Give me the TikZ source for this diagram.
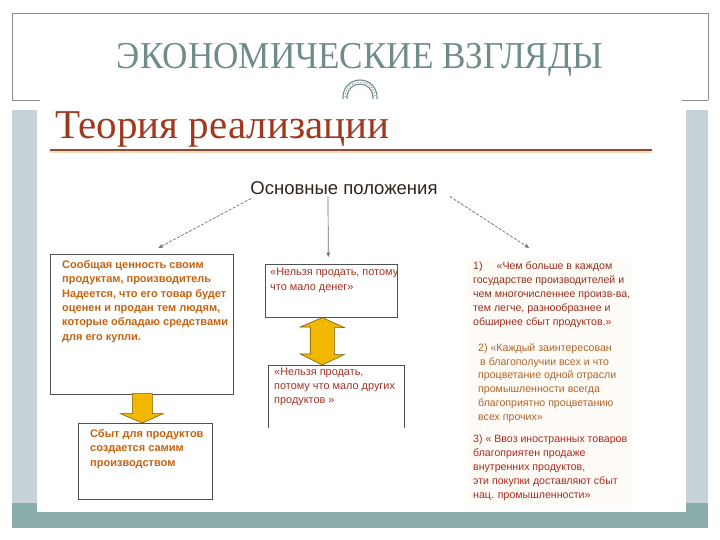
\documentclass[tikz,border=0pt]{standalone}
\usepackage{fontspec}
\setmainfont{Liberation Serif}
\setsansfont{Liberation Sans}
\usetikzlibrary{arrows.meta,calc}
\definecolor{framegray}{RGB}{140,140,140}
\definecolor{sidebar}{RGB}{197,210,216}
\definecolor{teal}{RGB}{138,172,171}
\definecolor{titlecol}{RGB}{111,139,139}
\definecolor{headcol}{RGB}{160,56,30}
\definecolor{rulecol}{RGB}{142,74,44}
\definecolor{rulelight}{RGB}{246,220,200}
\definecolor{boxorange}{RGB}{196,100,16}
\definecolor{boxgray}{RGB}{80,80,80}
\definecolor{yellowfill}{RGB}{242,184,0}
\definecolor{yellowline}{RGB}{120,90,0}
\definecolor{redtext}{RGB}{160,50,35}
\definecolor{itemone}{RGB}{150,45,30}
\definecolor{itemtwo}{RGB}{176,100,40}
\definecolor{itemthree}{RGB}{170,40,30}
\definecolor{cream}{RGB}{255,252,248}
\definecolor{arrowgray}{RGB}{110,110,110}
\definecolor{optext}{RGB}{50,35,25}
\begin{document}
\begin{tikzpicture}[x=1pt,y=-1pt,
  boxline/.style={draw=boxgray,line width=0.6pt,inner sep=0pt,anchor=north west},
  boldtext/.style={font=\sffamily\bfseries\fontsize{11}{14.4}\selectfont,text=boxorange,align=left,inner sep=0pt,anchor=north west},
  plaintext/.style={font=\sffamily\fontsize{10.6}{14.2}\selectfont,align=left,inner sep=0pt,anchor=north west},
  thinarrow/.style={draw=arrowgray,line width=0.7pt,-{Stealth[length=5pt,width=4pt]}},
  yarrow/.style={fill=yellowfill,draw=yellowline,line width=0.6pt,line join=miter}]
\useasboundingbox (0,0) rectangle (720,540);
% slide frame
\fill[teal] (12,503) rectangle (708,528);
\fill[sidebar] (12,110) rectangle (37,503);
\fill[sidebar] (686,110) rectangle (708,503);
\fill[white] (37,108) rectangle (686,512);
\draw[framegray,line width=0.8pt] (12,100) -- (12,13) -- (708,13) -- (708,100);
\draw[framegray,line width=0.8pt] (12,100) -- (40,100);
\draw[framegray,line width=0.8pt] (682,100) -- (708,100);
% title
\node[font=\fontsize{38}{44}\selectfont,text=titlecol,anchor=base,inner sep=0pt,xscale=0.925] (title) at (360,69) {ЭКОНОМИЧЕСКИЕ ВЗГЛЯДЫ};
% ornament
\draw[titlecol,line width=1.1pt] (343,99) -- (343,97) arc[start angle=180,end angle=360,radius=17] -- (377,99);
\draw[titlecol,line width=1.1pt] (347,99) -- (347,97) arc[start angle=180,end angle=360,radius=13] -- (373,99);
\draw[titlecol,line width=1pt,dotted] (345,97) arc[start angle=180,end angle=360,radius=15];
% heading
\node[font=\fontsize{41}{46}\selectfont,text=headcol,anchor=base west,inner sep=0pt] (head) at (55,139) {Теория реализации};
\draw[rulelight,line width=2pt] (50,152.5) -- (652,152.5);
\draw[rulecol,line width=2.6pt] (50,150) -- (652,150);
% right column background
\fill[cream] (466,258) rectangle (632,505);
\node[inner sep=0pt,anchor=north west,minimum width=166pt,minimum height=247pt] (rc) at (466,258) {};
% central label
\node[font=\sffamily\fontsize{18.5}{22}\selectfont,text=optext,anchor=base,inner sep=0pt] (op) at (344,195) {Основные положения};
% boxes
\node[boxline,minimum width=183pt,minimum height=140pt] (lb) at (50,254) {};
\node[boxline,minimum width=134pt,minimum height=76pt] (lb2) at (78,423) {};
\node[boxline,minimum width=132pt,minimum height=53pt] (cb1) at (265,264) {};
\node[inner sep=0pt,anchor=north west,minimum width=136pt,minimum height=63pt] (cb2) at (268,365) {};
\draw[draw=boxgray,line width=0.6pt] (cb2.south west) -- (cb2.north west) -- (cb2.north east) -- (cb2.south east);
% box texts (north west at first baseline minus ascent)
\node[boldtext] (lbt) at (62,260) {Сообщая ценность своим\\продуктам, производитель\\Надеется, что его товар будет\\оценен и продан тем людям,\\которые обладаю средствами\\для его купли.};
\node[boldtext] (lb2t) at (90,429) {Сбыт для продуктов\\создается самим\\производством};
\node[plaintext,text=redtext,font=\sffamily\fontsize{10.9}{15}\selectfont] (cb1t) at (270,268) {«Нельзя продать, потому\\что мало денег»};
\node[plaintext,text=redtext,font=\sffamily\fontsize{10.9}{13.8}\selectfont] (cb2t) at (274,368) {«Нельзя продать,\\потому что мало других\\продуктов »};
% right column texts
\node[plaintext,text=itemone] (r1) at (473,261.2) {1)\hspace{14pt}«Чем больше в каждом\\государстве производителей и\\чем многочисленнее произв-ва,\\тем легче, разнообразнее и\\обширнее сбыт продуктов.»};
\node[plaintext,text=itemtwo,font=\sffamily\fontsize{10.6}{13.8}\selectfont] (r2) at (478,343.2) {2)\ «Каждый заинтересован\\\hspace{2pt}в благополучии всех и что\\процветание одной отрасли\\промышленности всегда\\благоприятно процветанию\\всех прочих»};
\node[plaintext,text=itemthree,font=\sffamily\fontsize{10.6}{14}\selectfont] (r3) at (473,434.2) {3) « Ввоз иностранных товаров\\благоприятен продаже\\внутренних продуктов,\\эти покупки доставляют сбыт\\нац. промышленности»};
% thin arrows
\coordinate (opL) at ($(op.south west)+(1,3)$);
\coordinate (opC) at ($(op.south)+(-16,1)$);
\coordinate (opR) at ($(op.south east)+(12,1)$);
\draw[thinarrow,dash pattern=on 3pt off 1.5pt] (opL) -- ($(lb.north)+(16.5,-6)$);
\draw[thinarrow] (opC) -- ($(cb1.north)+(-3,-7)$);
\draw[thinarrow,dash pattern=on 3pt off 1.5pt] (opR) -- ($(rc.north)+(-20,-10)$);
% yellow arrows
\draw[yarrow] ($(lb.south)+(-9.5,-1)$) -- ++(20,0) -- ++(0,20) -- ++(11,0) -- ($(lb2.north)+(-3,0)$) -- ($(lb.south)+(-21.5,19)$) -- ++(12,0) -- cycle;
\draw[yarrow] ($(cb1.south)+(-9,0)$) -- ++(22,10) -- ++(-10,0) -- ++(0,27) -- ++(10,0) -- ($(cb2.north)+(-14,0)$) -- ++(-22,-11) -- ++(10,0) -- ++(0,-27) -- ++(-10,0) -- cycle;
\end{tikzpicture}
\end{document}
